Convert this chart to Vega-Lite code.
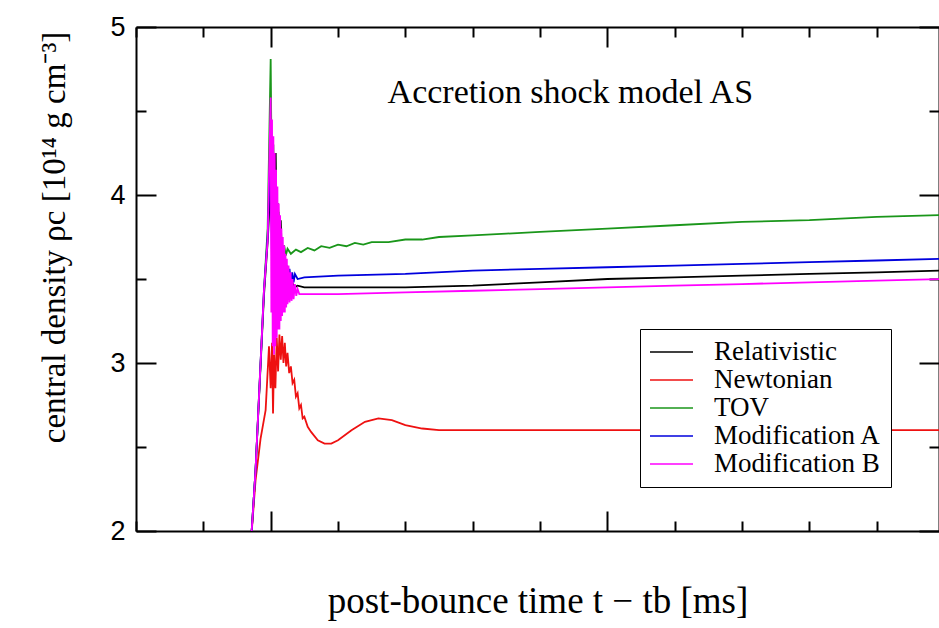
{
  "$schema": "https://vega.github.io/schema/vega-lite/v6.json",
  "width": 803,
  "height": 504,
  "autosize": "none",
  "padding": {"left": 136, "top": 27, "right": 0, "bottom": 97},
  "background": "white",
  "config": {"view": {"stroke": null}, "font": "Liberation Serif"},
  "datasets": {
    "curves": [
      {"model": "Relativistic", "t": -0.58, "rho": 1.95},
      {"model": "Relativistic", "t": -0.45, "rho": 2.36},
      {"model": "Relativistic", "t": -0.2, "rho": 3.4},
      {"model": "Relativistic", "t": -0.08, "rho": 3.75},
      {"model": "Relativistic", "t": 0.0, "rho": 4.1},
      {"model": "Relativistic", "t": 0.05, "rho": 3.7},
      {"model": "Relativistic", "t": 0.1, "rho": 4.0},
      {"model": "Relativistic", "t": 0.15, "rho": 4.25},
      {"model": "Relativistic", "t": 0.18, "rho": 3.7},
      {"model": "Relativistic", "t": 0.22, "rho": 3.95},
      {"model": "Relativistic", "t": 0.26, "rho": 3.5},
      {"model": "Relativistic", "t": 0.3, "rho": 3.85},
      {"model": "Relativistic", "t": 0.35, "rho": 3.5},
      {"model": "Relativistic", "t": 0.4, "rho": 3.65},
      {"model": "Relativistic", "t": 0.45, "rho": 3.45},
      {"model": "Relativistic", "t": 0.5, "rho": 3.55},
      {"model": "Relativistic", "t": 0.55, "rho": 3.44},
      {"model": "Relativistic", "t": 0.6, "rho": 3.5},
      {"model": "Relativistic", "t": 0.7, "rho": 3.45},
      {"model": "Relativistic", "t": 0.8, "rho": 3.46},
      {"model": "Relativistic", "t": 1.0, "rho": 3.45},
      {"model": "Relativistic", "t": 2.0, "rho": 3.45},
      {"model": "Relativistic", "t": 4.0, "rho": 3.45},
      {"model": "Relativistic", "t": 6.0, "rho": 3.46},
      {"model": "Relativistic", "t": 8.0, "rho": 3.48},
      {"model": "Relativistic", "t": 10.0, "rho": 3.5},
      {"model": "Relativistic", "t": 12.0, "rho": 3.51},
      {"model": "Relativistic", "t": 14.0, "rho": 3.52},
      {"model": "Relativistic", "t": 16.0, "rho": 3.53},
      {"model": "Relativistic", "t": 18.0, "rho": 3.54},
      {"model": "Relativistic", "t": 19.9, "rho": 3.55},

      {"model": "Newtonian", "t": -0.58, "rho": 1.95},
      {"model": "Newtonian", "t": -0.45, "rho": 2.3},
      {"model": "Newtonian", "t": -0.3, "rho": 2.55},
      {"model": "Newtonian", "t": -0.15, "rho": 2.72},
      {"model": "Newtonian", "t": -0.05, "rho": 3.1},
      {"model": "Newtonian", "t": 0.0, "rho": 2.85},
      {"model": "Newtonian", "t": 0.04, "rho": 3.12},
      {"model": "Newtonian", "t": 0.07, "rho": 2.7},
      {"model": "Newtonian", "t": 0.1, "rho": 3.05},
      {"model": "Newtonian", "t": 0.14, "rho": 2.85},
      {"model": "Newtonian", "t": 0.18, "rho": 3.15},
      {"model": "Newtonian", "t": 0.22, "rho": 2.95},
      {"model": "Newtonian", "t": 0.26, "rho": 3.17},
      {"model": "Newtonian", "t": 0.3, "rho": 3.02},
      {"model": "Newtonian", "t": 0.34, "rho": 3.16},
      {"model": "Newtonian", "t": 0.38, "rho": 3.0},
      {"model": "Newtonian", "t": 0.42, "rho": 3.12},
      {"model": "Newtonian", "t": 0.46, "rho": 2.98},
      {"model": "Newtonian", "t": 0.5, "rho": 3.06},
      {"model": "Newtonian", "t": 0.55, "rho": 2.94},
      {"model": "Newtonian", "t": 0.6, "rho": 2.98},
      {"model": "Newtonian", "t": 0.65, "rho": 2.88},
      {"model": "Newtonian", "t": 0.7, "rho": 2.9},
      {"model": "Newtonian", "t": 0.75, "rho": 2.8},
      {"model": "Newtonian", "t": 0.8, "rho": 2.82},
      {"model": "Newtonian", "t": 0.85, "rho": 2.73},
      {"model": "Newtonian", "t": 0.9, "rho": 2.75},
      {"model": "Newtonian", "t": 0.95, "rho": 2.67},
      {"model": "Newtonian", "t": 1.0, "rho": 2.68},
      {"model": "Newtonian", "t": 1.1, "rho": 2.62},
      {"model": "Newtonian", "t": 1.2, "rho": 2.59},
      {"model": "Newtonian", "t": 1.4, "rho": 2.54},
      {"model": "Newtonian", "t": 1.6, "rho": 2.52},
      {"model": "Newtonian", "t": 1.8, "rho": 2.52},
      {"model": "Newtonian", "t": 2.0, "rho": 2.54},
      {"model": "Newtonian", "t": 2.4, "rho": 2.6},
      {"model": "Newtonian", "t": 2.8, "rho": 2.65},
      {"model": "Newtonian", "t": 3.2, "rho": 2.67},
      {"model": "Newtonian", "t": 3.6, "rho": 2.66},
      {"model": "Newtonian", "t": 4.0, "rho": 2.63},
      {"model": "Newtonian", "t": 4.5, "rho": 2.61},
      {"model": "Newtonian", "t": 5.0, "rho": 2.6},
      {"model": "Newtonian", "t": 8.0, "rho": 2.6},
      {"model": "Newtonian", "t": 12.0, "rho": 2.6},
      {"model": "Newtonian", "t": 16.0, "rho": 2.6},
      {"model": "Newtonian", "t": 19.9, "rho": 2.6},

      {"model": "TOV", "t": -0.58, "rho": 1.95},
      {"model": "TOV", "t": -0.45, "rho": 2.36},
      {"model": "TOV", "t": -0.2, "rho": 3.43},
      {"model": "TOV", "t": -0.09, "rho": 3.8},
      {"model": "TOV", "t": 0.0, "rho": 4.81},
      {"model": "TOV", "t": 0.04, "rho": 3.9},
      {"model": "TOV", "t": 0.08, "rho": 4.3},
      {"model": "TOV", "t": 0.12, "rho": 3.7},
      {"model": "TOV", "t": 0.16, "rho": 4.0},
      {"model": "TOV", "t": 0.2, "rho": 3.65},
      {"model": "TOV", "t": 0.24, "rho": 3.9},
      {"model": "TOV", "t": 0.28, "rho": 3.62},
      {"model": "TOV", "t": 0.32, "rho": 3.75},
      {"model": "TOV", "t": 0.36, "rho": 3.62},
      {"model": "TOV", "t": 0.4, "rho": 3.7},
      {"model": "TOV", "t": 0.45, "rho": 3.64},
      {"model": "TOV", "t": 0.5, "rho": 3.68},
      {"model": "TOV", "t": 0.6, "rho": 3.65},
      {"model": "TOV", "t": 0.75, "rho": 3.675},
      {"model": "TOV", "t": 0.9, "rho": 3.66},
      {"model": "TOV", "t": 1.1, "rho": 3.685},
      {"model": "TOV", "t": 1.3, "rho": 3.67},
      {"model": "TOV", "t": 1.5, "rho": 3.695},
      {"model": "TOV", "t": 1.75, "rho": 3.685},
      {"model": "TOV", "t": 2.0, "rho": 3.705},
      {"model": "TOV", "t": 2.25, "rho": 3.695},
      {"model": "TOV", "t": 2.5, "rho": 3.715},
      {"model": "TOV", "t": 2.75, "rho": 3.705},
      {"model": "TOV", "t": 3.0, "rho": 3.72},
      {"model": "TOV", "t": 3.5, "rho": 3.72},
      {"model": "TOV", "t": 4.0, "rho": 3.735},
      {"model": "TOV", "t": 4.5, "rho": 3.735},
      {"model": "TOV", "t": 5.0, "rho": 3.75},
      {"model": "TOV", "t": 6.0, "rho": 3.76},
      {"model": "TOV", "t": 7.0, "rho": 3.77},
      {"model": "TOV", "t": 8.0, "rho": 3.78},
      {"model": "TOV", "t": 10.0, "rho": 3.8},
      {"model": "TOV", "t": 12.0, "rho": 3.82},
      {"model": "TOV", "t": 14.0, "rho": 3.84},
      {"model": "TOV", "t": 16.0, "rho": 3.85},
      {"model": "TOV", "t": 18.0, "rho": 3.87},
      {"model": "TOV", "t": 19.9, "rho": 3.88},

      {"model": "Modification A", "t": -0.58, "rho": 1.95},
      {"model": "Modification A", "t": -0.45, "rho": 2.36},
      {"model": "Modification A", "t": -0.2, "rho": 3.43},
      {"model": "Modification A", "t": -0.09, "rho": 3.75},
      {"model": "Modification A", "t": 0.0, "rho": 4.3},
      {"model": "Modification A", "t": 0.05, "rho": 3.4},
      {"model": "Modification A", "t": 0.1, "rho": 3.9},
      {"model": "Modification A", "t": 0.15, "rho": 3.3},
      {"model": "Modification A", "t": 0.2, "rho": 3.75},
      {"model": "Modification A", "t": 0.25, "rho": 3.35},
      {"model": "Modification A", "t": 0.3, "rho": 3.65},
      {"model": "Modification A", "t": 0.35, "rho": 3.4},
      {"model": "Modification A", "t": 0.4, "rho": 3.6},
      {"model": "Modification A", "t": 0.44, "rho": 3.44},
      {"model": "Modification A", "t": 0.48, "rho": 3.58},
      {"model": "Modification A", "t": 0.52, "rho": 3.46},
      {"model": "Modification A", "t": 0.56, "rho": 3.56},
      {"model": "Modification A", "t": 0.6, "rho": 3.47},
      {"model": "Modification A", "t": 0.64, "rho": 3.54},
      {"model": "Modification A", "t": 0.68, "rho": 3.48},
      {"model": "Modification A", "t": 0.72, "rho": 3.53},
      {"model": "Modification A", "t": 0.8, "rho": 3.5},
      {"model": "Modification A", "t": 1.0, "rho": 3.51},
      {"model": "Modification A", "t": 2.0, "rho": 3.52},
      {"model": "Modification A", "t": 4.0, "rho": 3.53},
      {"model": "Modification A", "t": 6.0, "rho": 3.55},
      {"model": "Modification A", "t": 8.0, "rho": 3.56},
      {"model": "Modification A", "t": 10.0, "rho": 3.57},
      {"model": "Modification A", "t": 12.0, "rho": 3.58},
      {"model": "Modification A", "t": 14.0, "rho": 3.59},
      {"model": "Modification A", "t": 16.0, "rho": 3.6},
      {"model": "Modification A", "t": 18.0, "rho": 3.61},
      {"model": "Modification A", "t": 19.9, "rho": 3.62},

      {"model": "Modification B", "t": -0.58, "rho": 1.95},
      {"model": "Modification B", "t": -0.45, "rho": 2.36},
      {"model": "Modification B", "t": -0.2, "rho": 3.43},
      {"model": "Modification B", "t": -0.09, "rho": 3.73},
      {"model": "Modification B", "t": 0.0, "rho": 4.58},
      {"model": "Modification B", "t": 0.02, "rho": 3.3},
      {"model": "Modification B", "t": 0.04, "rho": 4.45},
      {"model": "Modification B", "t": 0.06, "rho": 3.1},
      {"model": "Modification B", "t": 0.08, "rho": 4.35},
      {"model": "Modification B", "t": 0.1, "rho": 3.05},
      {"model": "Modification B", "t": 0.12, "rho": 4.25},
      {"model": "Modification B", "t": 0.14, "rho": 3.1},
      {"model": "Modification B", "t": 0.16, "rho": 4.15},
      {"model": "Modification B", "t": 0.18, "rho": 3.15},
      {"model": "Modification B", "t": 0.2, "rho": 4.05},
      {"model": "Modification B", "t": 0.22, "rho": 3.2},
      {"model": "Modification B", "t": 0.24, "rho": 3.95},
      {"model": "Modification B", "t": 0.26, "rho": 3.2},
      {"model": "Modification B", "t": 0.28, "rho": 3.88},
      {"model": "Modification B", "t": 0.3, "rho": 3.25},
      {"model": "Modification B", "t": 0.32, "rho": 3.8},
      {"model": "Modification B", "t": 0.34, "rho": 3.28},
      {"model": "Modification B", "t": 0.36, "rho": 3.75},
      {"model": "Modification B", "t": 0.38, "rho": 3.3},
      {"model": "Modification B", "t": 0.4, "rho": 3.7},
      {"model": "Modification B", "t": 0.42, "rho": 3.3},
      {"model": "Modification B", "t": 0.44, "rho": 3.65},
      {"model": "Modification B", "t": 0.46, "rho": 3.33},
      {"model": "Modification B", "t": 0.48, "rho": 3.62},
      {"model": "Modification B", "t": 0.5, "rho": 3.35},
      {"model": "Modification B", "t": 0.53, "rho": 3.58},
      {"model": "Modification B", "t": 0.56, "rho": 3.36},
      {"model": "Modification B", "t": 0.59, "rho": 3.54},
      {"model": "Modification B", "t": 0.62, "rho": 3.37},
      {"model": "Modification B", "t": 0.65, "rho": 3.5},
      {"model": "Modification B", "t": 0.68, "rho": 3.38},
      {"model": "Modification B", "t": 0.72, "rho": 3.47},
      {"model": "Modification B", "t": 0.76, "rho": 3.4},
      {"model": "Modification B", "t": 0.8, "rho": 3.44},
      {"model": "Modification B", "t": 0.85, "rho": 3.41},
      {"model": "Modification B", "t": 1.0, "rho": 3.41},
      {"model": "Modification B", "t": 2.0, "rho": 3.41},
      {"model": "Modification B", "t": 4.0, "rho": 3.42},
      {"model": "Modification B", "t": 6.0, "rho": 3.43},
      {"model": "Modification B", "t": 8.0, "rho": 3.44},
      {"model": "Modification B", "t": 10.0, "rho": 3.45},
      {"model": "Modification B", "t": 12.0, "rho": 3.46},
      {"model": "Modification B", "t": 14.0, "rho": 3.47},
      {"model": "Modification B", "t": 16.0, "rho": 3.48},
      {"model": "Modification B", "t": 18.0, "rho": 3.49},
      {"model": "Modification B", "t": 19.9, "rho": 3.5}
    ],
    "note": [{"t": 8.9, "rho": 4.61, "label": "Accretion shock model AS"}]
  },
  "layer": [
    {
      "data": {"name": "curves"},
      "mark": {"type": "line", "strokeWidth": 1.8, "clip": true},
      "encoding": {
        "x": {
          "field": "t", "type": "quantitative",
          "scale": {"domain": [-4, 19.85], "nice": false, "zero": false},
          "axis": {
            "orient": "bottom",
            "values": [-4, -2, 0, 2, 4, 6, 8, 10, 12, 14, 16, 18],
            "labels": false, "grid": false,
            "tickSize": {"condition": {"test": "datum.value % 10 === 0", "value": -20}, "value": -10},
            "tickColor": "black", "tickWidth": 2,
            "domainColor": "black", "domainWidth": 2,
            "title": "post-bounce time t − tb [ms]",
            "titleFont": "Liberation Serif", "titleFontSize": 37, "titleFontWeight": "normal",
            "titleColor": "black", "titlePadding": 51
          }
        },
        "y": {
          "field": "rho", "type": "quantitative",
          "scale": {"domain": [2, 5], "nice": false, "zero": false},
          "axis": {
            "orient": "left",
            "values": [2, 2.5, 3, 3.5, 4, 4.5, 5],
            "labelExpr": "datum.value % 1 === 0 ? format(datum.value, 'd') : ''",
            "labelFont": "Liberation Sans", "labelFontSize": 27, "labelColor": "black",
            "labelPadding": 31, "grid": false,
            "tickSize": {"condition": {"test": "datum.value % 1 === 0", "value": -20}, "value": -10},
            "tickColor": "black", "tickWidth": 2,
            "domainColor": "black", "domainWidth": 2,
            "title": "central density ρc [10¹⁴ g cm⁻³]",
            "titleFont": "Liberation Serif", "titleFontSize": 33, "titleFontWeight": "normal",
            "titleColor": "black", "titlePadding": 38, "titleY": 210
          }
        },
        "color": {
          "field": "model", "type": "nominal",
          "scale": {
            "domain": ["Relativistic", "Newtonian", "TOV", "Modification A", "Modification B"],
            "range": ["#000000", "#ee1111", "#1a961a", "#0000dd", "#ff00ff"]
          },
          "legend": {
            "orient": "none", "legendX": 504, "legendY": 302,
            "title": null,
            "strokeColor": "black", "fillColor": "white", "padding": 9,
            "symbolType": "stroke", "symbolSize": 1849, "symbolStrokeWidth": 1.6,
            "clipHeight": 28, "rowPadding": 0,
            "labelFont": "Liberation Serif", "labelFontSize": 27, "labelColor": "black",
            "labelOffset": 20, "labelLimit": 400
          }
        }
      }
    },
    {
      "data": {"name": "note"},
      "mark": {"type": "text", "font": "Liberation Serif", "fontSize": 34, "color": "black"},
      "encoding": {
        "x": {
          "field": "t", "type": "quantitative",
          "scale": {"domain": [-4, 19.85], "nice": false, "zero": false},
          "axis": {
            "orient": "top",
            "values": [-4, -2, 0, 2, 4, 6, 8, 10, 12, 14, 16, 18],
            "labels": false, "grid": false, "title": null,
            "tickSize": {"condition": {"test": "datum.value % 10 === 0", "value": -20}, "value": -10},
            "tickColor": "black", "tickWidth": 2,
            "domainColor": "black", "domainWidth": 2
          }
        },
        "y": {
          "field": "rho", "type": "quantitative",
          "scale": {"domain": [2, 5], "nice": false, "zero": false},
          "axis": {
            "orient": "right",
            "values": [2, 2.5, 3, 3.5, 4, 4.5, 5],
            "labels": false, "grid": false, "title": null,
            "tickSize": {"condition": {"test": "datum.value % 1 === 0", "value": -20}, "value": -10},
            "tickColor": "black", "tickWidth": 2,
            "domainColor": "black", "domainWidth": 2
          }
        },
        "text": {"field": "label"}
      }
    }
  ]
}
